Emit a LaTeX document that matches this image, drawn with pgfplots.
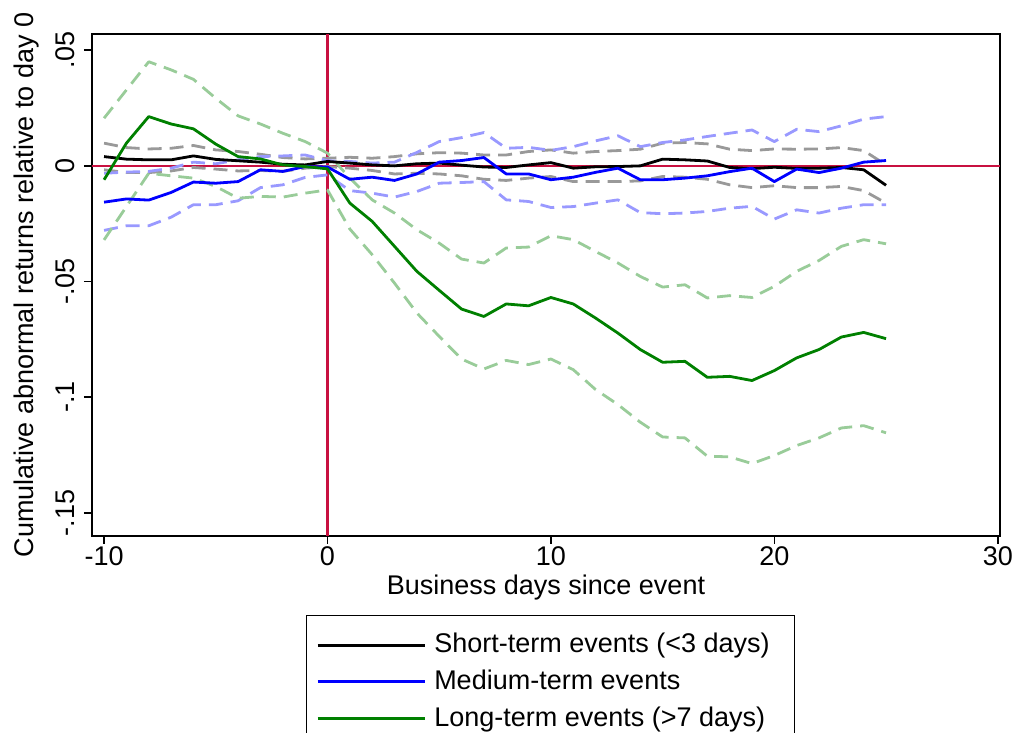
\documentclass[border=0pt]{standalone}
\usepackage{pgfplots}
\usepackage{pgfplotstable}
\pgfplotsset{compat=1.18}
\usepackage{fontspec}
\setmainfont{Liberation Sans}

\definecolor{cranberry}{RGB}{200,16,64}
\definecolor{ciblack}{RGB}{153,153,153}
\definecolor{ciblue}{RGB}{153,153,255}
\definecolor{cigreen}{RGB}{153,204,153}
\definecolor{stgreen}{RGB}{0,128,0}

% Cumulative abnormal returns: estimate with lower and upper band, by event length
\pgfplotstableread{
day  est      lo       hi
-10  0.0040  -0.0017   0.0098
-9   0.0029  -0.0029   0.0079
-8   0.0026  -0.0029   0.0073
-7   0.0026  -0.0022   0.0076
-6   0.0043  -0.0007   0.0088
-5   0.0028  -0.0014   0.0069
-4   0.0022  -0.0022   0.0062
-3   0.0016  -0.0020   0.0050
-2   0.0007  -0.0024   0.0036
-1   0.0004  -0.0010   0.0030
0    0.0019  -0.0003   0.0033
1    0.0012  -0.0010   0.0037
2    0.0004  -0.0020   0.0033
3    0.0000  -0.0035   0.0040
4    0.0009  -0.0032   0.0052
5    0.0012  -0.0035   0.0057
6    0.0003  -0.0043   0.0055
7   -0.0005  -0.0058   0.0047
8   -0.0007  -0.0063   0.0047
9    0.0004  -0.0053   0.0062
10   0.0014  -0.0046   0.0069
11  -0.0010  -0.0068   0.0055
12  -0.0004  -0.0068   0.0062
13  -0.0003  -0.0068   0.0066
14   0.0000  -0.0065   0.0072
15   0.0029  -0.0046   0.0098
16   0.0026  -0.0049   0.0101
17   0.0021  -0.0058   0.0095
18  -0.0007  -0.0082   0.0072
19  -0.0012  -0.0094   0.0066
20  -0.0006  -0.0086   0.0073
21  -0.0011  -0.0094   0.0072
22  -0.0010  -0.0094   0.0073
23  -0.0007  -0.0089   0.0079
24  -0.0017  -0.0107   0.0066
25  -0.0084  -0.0161   0.0004
}\shortterm

\pgfplotstableread{
day  est      lo       hi
-10 -0.0157  -0.0279  -0.0032
-9  -0.0143  -0.0259  -0.0027
-8  -0.0148  -0.0259  -0.0024
-7  -0.0115  -0.0222  -0.0010
-6  -0.0070  -0.0168   0.0016
-5  -0.0075  -0.0168   0.0009
-4  -0.0068  -0.0151   0.0026
-3  -0.0017  -0.0094   0.0040
-2  -0.0024  -0.0082   0.0043
-1  -0.0003  -0.0050   0.0047
0   -0.0005  -0.0039   0.0022
1   -0.0058  -0.0107   0.0019
2   -0.0049  -0.0118   0.0012
3   -0.0063  -0.0135   0.0016
4   -0.0035  -0.0111   0.0058
5    0.0016  -0.0075   0.0105
6    0.0023  -0.0072   0.0122
7    0.0036  -0.0068   0.0144
8   -0.0035  -0.0147   0.0076
9   -0.0035  -0.0154   0.0080
10  -0.0060  -0.0180   0.0067
11  -0.0049  -0.0176   0.0083
12  -0.0028  -0.0161   0.0108
13  -0.0010  -0.0147   0.0130
14  -0.0060  -0.0202   0.0083
15  -0.0060  -0.0207   0.0101
16  -0.0053  -0.0204   0.0112
17  -0.0043  -0.0197   0.0127
18  -0.0025  -0.0183   0.0141
19  -0.0010  -0.0175   0.0155
20  -0.0068  -0.0230   0.0105
21  -0.0014  -0.0190   0.0158
22  -0.0029  -0.0204   0.0148
23  -0.0010  -0.0183   0.0173
24   0.0016  -0.0168   0.0202
25   0.0023  -0.0168   0.0213
}\mediumterm

\pgfplotstableread{
day  est      lo       hi
-10 -0.0060  -0.0320   0.0206
-9   0.0098  -0.0176   0.0328
-8   0.0213  -0.0032   0.0450
-7   0.0181  -0.0043   0.0415
-6   0.0160  -0.0053   0.0374
-5   0.0094  -0.0089   0.0292
-4   0.0040  -0.0140   0.0216
-3   0.0030  -0.0132   0.0181
-2   0.0004  -0.0135   0.0141
-1  -0.0003  -0.0118   0.0105
0   -0.0013  -0.0104   0.0055
1   -0.0161  -0.0273  -0.0053
2   -0.0240  -0.0384  -0.0147
3   -0.0348  -0.0507  -0.0204
4   -0.0456  -0.0636  -0.0276
5   -0.0538  -0.0737  -0.0334
6   -0.0619  -0.0835  -0.0403
7   -0.0651  -0.0878  -0.0420
8   -0.0597  -0.0841  -0.0355
9   -0.0605  -0.0859  -0.0351
10  -0.0569  -0.0835  -0.0302
11  -0.0597  -0.0881  -0.0319
12  -0.0658  -0.0967  -0.0370
13  -0.0723  -0.1032  -0.0420
14  -0.0794  -0.1108  -0.0478
15  -0.0849  -0.1172  -0.0524
16  -0.0845  -0.1176  -0.0514
17  -0.0914  -0.1255  -0.0571
18  -0.0910  -0.1258  -0.0561
19  -0.0928  -0.1287  -0.0569
20  -0.0885  -0.1252  -0.0521
21  -0.0830  -0.1209  -0.0456
22  -0.0794  -0.1176  -0.0409
23  -0.0740  -0.1133  -0.0348
24  -0.0720  -0.1123  -0.0319
25  -0.0747  -0.1154  -0.0337
}\longterm

\begin{document}
\fontsize{13.5}{16.2}\selectfont
\begin{tikzpicture}
\begin{axis}[
  scale only axis,
  width=454pt, height=251pt,
  xmin=-10.54, xmax=30.1,
  ymin=-0.16, ymax=0.057,
  axis line style={black, line width=0.75pt},
  tick style={black, line width=0.75pt},
  tick align=outside,
  major tick length=4pt,
  xtick pos=bottom, ytick pos=left,
  xtick={-10,0,10,20,30},
  xticklabels={-10,0,10,20,30},
  ytick={-0.15,-0.1,-0.05,0,0.05},
  yticklabels={-.15,-.1,-.05,0,.05},
  yticklabel style={rotate=90, anchor=south},
  xticklabel style={anchor=north, yshift=3.5pt},
  /pgf/number format/assume math mode=true,
  xlabel={Business days since event},
  ylabel={Cumulative abnormal returns relative to day 0},
  xlabel style={at={(axis description cs:0.5,-0.1036)}, anchor=center},
  ylabel style={at={(axis description cs:-0.0716,0.5)}, anchor=center},
  clip=false,
  legend cell align=left,
  legend image code/.code={%
    \path (0pt,0pt) -- (53.5pt,0pt);
    \draw[#1] (0pt,0pt) -- (50pt,0pt);},
  legend style={
    at={(axis description cs:0.505,-0.157)}, anchor=north,
    draw=black, line width=0.6pt,
    inner xsep=5pt, inner ysep=7pt,
    row sep=2.5pt,
    nodes={inner xsep=4pt},
    font=\fontsize{13.5}{16.2}\selectfont,
  },
  every axis plot/.append style={line join=round},
]
% reference lines at the event day and at zero
\addplot[cranberry, line width=1.2pt, forget plot] coordinates {(-10.54,0) (30.1,0)};
\addplot[cranberry, line width=1.2pt, forget plot] coordinates {(0,-0.16) (0,0.057)};

% confidence bands
\pgfplotsset{band/.style={line width=1.4pt, dash pattern=on 7pt off 4pt, forget plot}}
\addplot[band, ciblack] table[x=day, y=hi] {\shortterm};
\addplot[band, ciblack] table[x=day, y=lo] {\shortterm};
\addplot[band, ciblue] table[x=day, y=hi] {\mediumterm};
\addplot[band, ciblue] table[x=day, y=lo] {\mediumterm};
\addplot[band, cigreen] table[x=day, y=hi] {\longterm};
\addplot[band, cigreen] table[x=day, y=lo] {\longterm};

% point estimates
\addplot[black, line width=1.4pt] table[x=day, y=est] {\shortterm};
\addlegendentry{Short-term events (<3 days)\rule{3.5pt}{0pt}}
\addplot[blue, line width=1.4pt] table[x=day, y=est] {\mediumterm};
\addlegendentry{Medium-term events}
\addplot[stgreen, line width=1.4pt] table[x=day, y=est] {\longterm};
\addlegendentry{Long-term events (>7 days)}
\end{axis}
\pgfresetboundingbox
\useasboundingbox ([xshift=-46pt,yshift=-98.5pt]current axis.south west)
  rectangle ([xshift=7pt,yshift=17pt]current axis.north east);
\end{tikzpicture}
\end{document}
